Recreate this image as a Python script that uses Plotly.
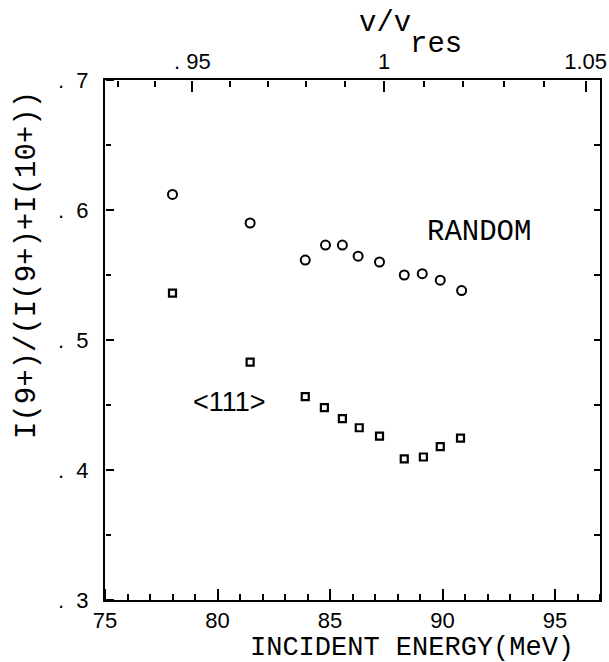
import plotly.graph_objects as go

# RANDOM (open circles)
random_energy = [78.0, 81.45, 83.9, 84.8, 85.55, 86.25, 87.2, 88.3, 89.1, 89.9, 90.85]
random_ratio = [0.612, 0.590, 0.5615, 0.573, 0.573, 0.5645, 0.560, 0.550, 0.551, 0.546, 0.538]

# <111> (open squares)
axial_energy = [78.0, 81.45, 83.9, 84.75, 85.55, 86.3, 87.2, 88.3, 89.15, 89.9, 90.8]
axial_ratio = [0.536, 0.483, 0.4565, 0.448, 0.4395, 0.4325, 0.426, 0.4085, 0.410, 0.418, 0.4245]

NB = "\u00a0"
y_major = [0.3, 0.4, 0.5, 0.6, 0.7]
y_ticktext = ["." + NB * 2 + d for d in ["3", "4", "5", "6", "7"]]
y_minor = [0.35, 0.45, 0.55, 0.65]
y_right = [0.35, 0.4, 0.45, 0.5, 0.55, 0.6, 0.65]

# top axis: v/v_res, with E = E_res * (v/v_res)^2
E_RES = 87.4
top_major = [0.95, 1.0, 1.05]
top_ticktext = ["." + NB + "95", "1", "1.05"]
top_minor = [0.93, 0.94, 0.96, 0.97, 0.98, 0.99, 1.01, 1.02, 1.03, 1.04]

X_RANGE = [75, 97]
Y_RANGE = [0.3, 0.7]

MONO = "Liberation Mono, Courier New, monospace"
TICKFONT = dict(family="Liberation Sans, Arial, sans-serif", size=22, color="black")

fig = go.Figure()
fig.add_trace(go.Scatter(
    x=random_energy, y=random_ratio, mode="markers",
    marker=dict(symbol="circle-open", size=9, color="black", line=dict(width=2)),
    showlegend=False, name="RANDOM"))
fig.add_trace(go.Scatter(
    x=axial_energy, y=axial_ratio, mode="markers",
    marker=dict(symbol="square-open", size=7, color="black", line=dict(width=2.2)),
    showlegend=False, name="<111>"))

# invisible helpers so every extra tick axis gets a subplot
pairs = [(f"x{i}", "y") for i in range(2, 7)] + [("x", f"y{i}") for i in range(2, 6)]
for xa, ya in pairs:
    fig.add_trace(go.Scatter(x=[X_RANGE[0]], y=[Y_RANGE[0]], xaxis=xa, yaxis=ya,
                             mode="markers", marker=dict(opacity=0),
                             showlegend=False, hoverinfo="skip"))

common = dict(showgrid=False, zeroline=False, automargin=False)
tick_style = dict(ticks="outside", tickwidth=2, tickcolor="black",
                  showticklabels=False, showline=False)


def x_ticks_axis(side, position, vals=None, dtick=None, length=6):
    d = dict(overlaying="x", side=side, anchor="free", position=position,
             range=X_RANGE, ticklen=length, **tick_style, **common)
    if dtick is not None:
        d.update(tickmode="linear", tick0=75, dtick=dtick)
    else:
        d.update(tickmode="array", tickvals=vals)
    return d


def y_ticks_axis(side, position, vals, length):
    return dict(overlaying="y", side=side, anchor="free", position=position,
                range=Y_RANGE, ticklen=length, tickmode="array", tickvals=vals,
                **tick_style, **common)


fig.update_layout(
    width=609, height=662,
    margin=dict(l=105, r=9, t=80, b=62),
    paper_bgcolor="white", plot_bgcolor="white",
    font=dict(family=MONO, color="black"),
    # bottom energy axis: frame line + labels
    xaxis=dict(range=X_RANGE, showline=True, linecolor="black", linewidth=2,
               tickmode="linear", tick0=75, dtick=5, ticks="",
               tickfont=TICKFONT, **common),
    # bottom ticks pointing up into the plot (top-side axes placed at the bottom)
    xaxis2=x_ticks_axis("top", 0, dtick=5, length=11),
    xaxis3=x_ticks_axis("top", 0, dtick=1, length=6),
    # top v/v_res axis: frame line + labels
    xaxis4=dict(overlaying="x", side="top", anchor="y", range=X_RANGE,
                showline=True, linecolor="black", linewidth=2,
                tickmode="array", tickvals=[E_RES * v * v for v in top_major],
                ticktext=top_ticktext, ticks="", tickfont=TICKFONT,
                ticklabeloverflow="allow", **common),
    # top ticks pointing down into the plot
    xaxis5=x_ticks_axis("bottom", 1, vals=[E_RES * v * v for v in top_major], length=11),
    xaxis6=x_ticks_axis("bottom", 1, vals=[E_RES * v * v for v in top_minor], length=6),
    # left ratio axis: frame line + labels
    yaxis=dict(range=Y_RANGE, showline=True, linecolor="black", linewidth=2,
               tickmode="array", tickvals=y_major, ticktext=y_ticktext, ticks="",
               tickfont=TICKFONT, ticklabelstandoff=10, **common),
    # left ticks pointing right into the plot
    yaxis2=y_ticks_axis("right", 0, y_major, 8),
    yaxis3=y_ticks_axis("right", 0, y_minor, 5),
    # right frame line
    yaxis4=dict(overlaying="y", side="right", anchor="x", range=Y_RANGE,
                showline=True, linecolor="black", linewidth=2, ticks="",
                showticklabels=False, **common),
    # right ticks pointing left into the plot
    yaxis5=y_ticks_axis("left", 1, y_right, 6),
)


def px_x(p):
    return (p - 105) / 495


def px_y(p):
    return (600 - p) / 520


ann = [
    dict(text="INCIDENT ENERGY(MeV)", x=px_x(412), y=px_y(648), xanchor="center",
         yanchor="middle", font=dict(family=MONO, size=27)),
    dict(text="I(9+)/(I(9+)+I(10+))", x=px_x(27), y=px_y(265), xanchor="center",
         yanchor="middle", textangle=-90, font=dict(family=MONO, size=29)),
    dict(text="v/v", x=px_x(357), y=px_y(24), xanchor="left",
         yanchor="middle", font=dict(family=MONO, size=29)),
    dict(text="res", x=px_x(408), y=px_y(44), xanchor="left",
         yanchor="middle", font=dict(family=MONO, size=29)),
    dict(text="RANDOM", x=px_x(479), y=px_y(233), xanchor="center", yanchor="middle",
         font=dict(family=MONO, size=29)),
    dict(text="<111>", x=px_x(229.5), y=px_y(402), xanchor="center", yanchor="middle",
         font=dict(family="Liberation Sans, Arial, sans-serif", size=27)),
]
for a in ann:
    a.update(xref="paper", yref="paper", showarrow=False)
fig.update_layout(annotations=ann)

fig.write_html("out.html")
